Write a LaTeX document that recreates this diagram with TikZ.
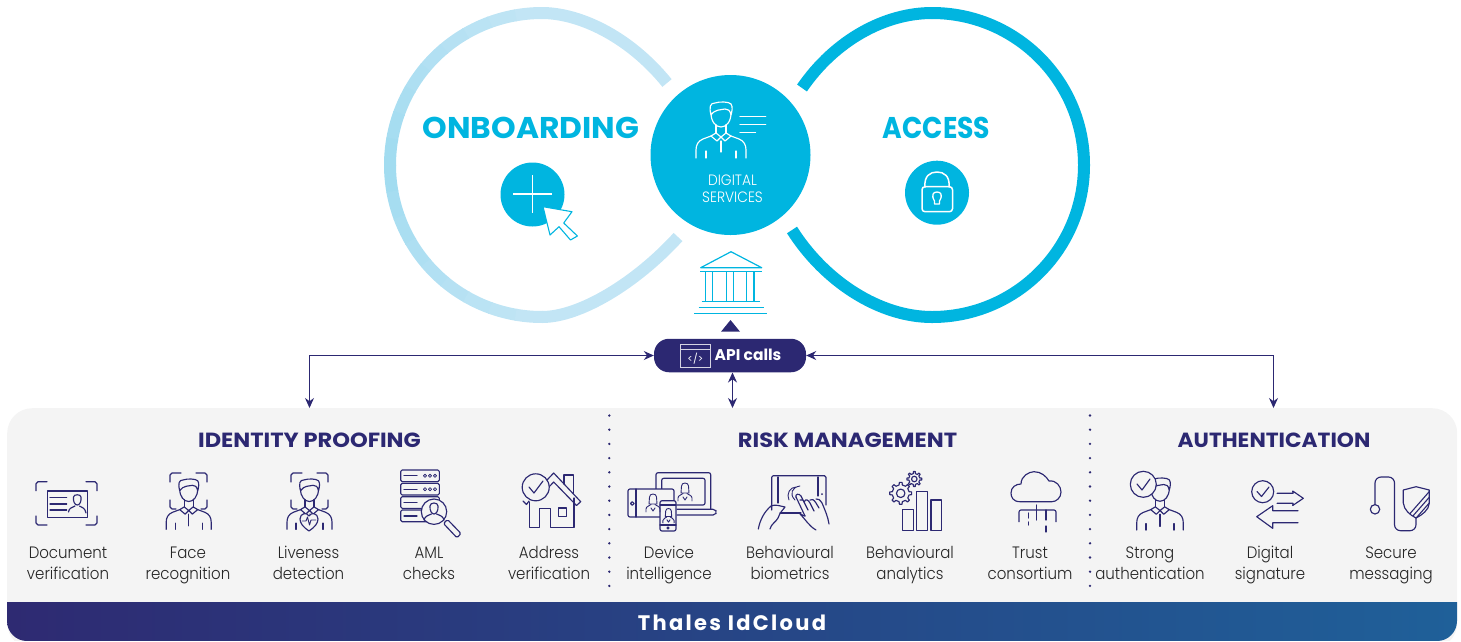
\documentclass[tikz,border=0pt]{standalone}
\usepackage{fontspec}
\setmainfont{Poppins}
\newfontfamily\lightf{Poppins Light}
\newfontfamily\boldf{Poppins}[UprightFont=* Bold,LetterSpace=0]
\usetikzlibrary{arrows.meta,shapes.geometric,calc}
\definecolor{cyanM}{HTML}{00B5E0}
\definecolor{navy}{HTML}{2C2872}
\definecolor{panelG}{HTML}{F4F4F4}
\definecolor{ringA}{HTML}{A0DBF0}
\definecolor{ringB}{HTML}{C2E5F5}
\definecolor{barL}{HTML}{2E2A72}
\definecolor{barR}{HTML}{1F6099}
\tikzset{
  icon/.style={draw=navy,line width=1.15pt,line cap=round,line join=round,fill=none},
  wicon/.style={draw=white,line width=1.15pt,line cap=round,line join=round,fill=none},
  cicon/.style={draw=cyanM,line width=1.2pt,fill=none},
  lab/.style={font=\lightf\fontsize{16.5}{21}\selectfont,text=black!85,anchor=base,inner sep=0pt},
  head/.style={font=\boldf\fontsize{20.5}{24}\selectfont,text=navy,inner sep=0pt},
  big/.style={font=\boldf\fontsize{30}{32}\selectfont,text=cyanM,inner sep=0pt},
  link/.style={draw=navy,line width=1.2pt,{Stealth[length=10pt,width=9pt]}-{Stealth[length=10pt,width=9pt]}},
  disc/.style={circle,fill=cyanM,inner sep=0pt},
  dot/.style={circle,fill=navy,inner sep=0pt,minimum size=2.6pt},
}
% person: head top at (0,0), half-width 25, height 56
\newcommand\PersonIcon[5][50]{%
\begin{scope}[shift={(#2,#3)},scale=#4]
 \draw[#5] (-10,11) .. controls (-10,20) and (-5,25) .. (0,25) .. controls (5,25) and (10,20) .. (10,11);
 \draw[#5] (-10,13) .. controls (-12,5) and (-11,1) .. (-6,1) .. controls (-2,-0.5) and (8,-0.5) .. (10,2) .. controls (12,5) and (11,9) .. (10,13) .. controls (9,8) and (7,7) .. (4,7) .. controls (0,8) and (-6,7) .. (-10,13);
 \draw[#5] (-5,23)--(-5,31) (5,23)--(5,31);
 \draw[#5] (-5,31)--(-10,34)--(-4,39)--(0,35)--(4,39)--(10,34)--(5,31) (-5,31)--(0,35)--(5,31);
 \draw[#5] (-10,34)--(-18,37) .. controls (-23,39) and (-25,43) .. (-25,48)--(-25,56);
 \draw[#5] (10,34)--(18,37) .. controls (23,39) and (25,43) .. (25,48)--(25,56);
 \draw[#5] (-15,49)--(-15,56) (15,49)--(15,56) (0,39)--(0,#1);
\end{scope}}
\newcommand\Brackets[4]{% x1 y1 x2 y2
 \draw[icon] (#1,{#2+9}) -- (#1,{#2+2}) -- ({#1+2},#2) -- ({#1+11},#2);
 \draw[icon] ({#3-11},#2) -- ({#3-2},#2) -- (#3,{#2+2}) -- (#3,{#2+9});
}
\newcommand\Gear[4]{% x y r teeth-outer
\begin{scope}[shift={(#1,#2)}]
 \draw[icon] (-11:#3) \foreach \a in {0,45,...,315}{ -- ({\a-11}:#3) -- ({\a-7}:#4) -- ({\a+7}:#4) -- ({\a+11}:#3) } -- cycle;
 \draw[icon] (0,0) circle ({0.5*#3});
\end{scope}}
\begin{document}
\begin{tikzpicture}[x=1pt,y=-1pt]
\useasboundingbox (0,0) rectangle (1461,641);
% rings
\foreach \i in {0,...,17}{
  \pgfmathsetmacro\p{abs(\i-8.5)/8.5*100}
  \pgfmathsetmacro\sa{-90-\i*10}
  \pgfmathsetmacro\ea{-90-(\i+1)*10-0.4}
  \draw[color=ringB!\p!ringA,line width=12pt] ($(542,165)+(\sa:152)$) arc[start angle=\sa,end angle=\ea,radius=152];
}
\draw[ringB,line width=12pt] (542,13) .. controls (578,13) and (628,35) .. (667,83);
\draw[ringB,line width=12pt] (542,317) .. controls (580,317) and (636,283) .. (678,237);
\draw[cyanM,line width=12pt] ($(932,165)+(-90:152)$) arc[start angle=-90,end angle=90,radius=152];
\draw[cyanM,line width=12pt] (932,13) .. controls (885,13) and (835,40) .. (802,88);
\draw[cyanM,line width=12pt] (932,317) .. controls (880,317) and (825,282) .. (792,230);
% panel
\node[draw=none,fill=panelG,rounded corners=25pt,minimum width=1450pt,minimum height=240pt,inner sep=0pt,anchor=north west] (panel) at (7,408) {};
\shade[left color=barL,right color=barR] (7,602) -- (1457,602) -- (1457,621) arc[start angle=0,end angle=90,radius=20] -- (27,641) arc[start angle=90,end angle=180,radius=20] -- cycle;
\fill[white] (0,641) rectangle (1461,650);
\node[font=\boldf\fontsize{21}{24}\selectfont,text=white,inner sep=0pt] (bartext) at (732,623) {\addfontfeature{LetterSpace=11}Thales IdCloud};
% main circles
\node[disc,minimum size=160pt] (main) at (730.5,155) {};
\node[disc,minimum size=64pt] (plusdisc) at (532.5,194.5) {};
\node[disc,minimum size=64pt] (lockdisc) at (937,192.7) {};
\node[big] (onb) at (531,128) {\scalebox{1.045}[1]{ONBOARDING}};
\node[big] (acc) at (936.5,128) {\scalebox{0.89}[1]{ACCESS}};
\node[font=\lightf\fontsize{15}{17}\selectfont,text=white,inner sep=0pt,anchor=base] (dig1) at (732.5,185) {\scalebox{0.92}[1]{DIGITAL}};
\node[font=\lightf\fontsize{15}{17}\selectfont,text=white,inner sep=0pt,anchor=base] (dig2) at (732.5,202) {\scalebox{0.92}[1]{SERVICES}};
% plus + cursor
\draw[white,line width=1.5pt] (513,194) -- (552,194) (532.7,175) -- (532.7,213);
\draw[cyanM,fill=white,line width=1.1pt,line join=round] (543,206.7) -- (550,235) -- (559,226.7) -- (570.5,240) -- (577.4,236) -- (563.7,223) -- (572,211.7) -- cycle;
% lock
\draw[wicon,line width=1.5pt] (925,187) .. controls (924,176) and (930,172) .. (937,172) .. controls (944,172) and (950,176) .. (949,187);
\draw[wicon,line width=1.5pt,rounded corners=3pt] (922,186.7) rectangle (952.5,211.7);
\draw[wicon,line width=1.3pt] (934.5,201) .. controls (931,195) and (933,192) .. (937,192) .. controls (941,192) and (943,195) .. (939.5,201) -- (939.5,204) -- (934.5,204) -- cycle;
% person in main
\PersonIcon{721}{102}{1}{wicon}
\draw[wicon] (740,116.7)--(765.7,116.7) (740,124.7)--(765.7,124.7) (740,132.7)--(755.6,132.7);
% bank
\draw[cicon,line join=round] (700.7,267.7) -- (731,251.7) -- (761.7,267.7) -- cycle;
\draw[cicon] (700,271.7) -- (762,271.7) (701.7,301.7) -- (760,301.7) (698.5,307.7) -- (763.5,307.7) (694.3,313.3) -- (766.7,313.3);
\foreach \cx in {705.7,712.7,726.7,733.3,746.7,754}{\draw[cicon] (\cx,271.7) -- (\cx,301.7);}
% API
\fill[navy] (721,331.7) -- (730.5,320) -- (740,331.7) -- cycle;
\node[fill=navy,rounded corners=15pt,minimum width=152pt,minimum height=33.5pt,inner sep=0pt] (api) at (730,355.5) {};
\node[font=\boldf\fontsize{15.5}{18}\selectfont,text=white,inner sep=0pt] (apitext) at (748,355) {API calls};
\draw[white!80!navy,line width=1pt] (680.7,344) rectangle (710,367.3) (680.7,349.5) -- (710,349.5);
\node[font=\fontsize{10}{10}\selectfont,text=white,inner sep=0pt] (code) at (695.3,358.5) {</>};
% connectors
\coordinate (idp) at (309.5,408);
\coordinate (auth) at (1273.5,408);
\coordinate (midT) at (732.5,372.5);
\coordinate (midB) at (732.5,408);
\draw[link] (api.west |- 0,355.5) -| (idp);
\draw[link] (api.east |- 0,355.5) -| (auth);
\draw[link] (midT) -- (midB);
% dotted
\foreach \dx in {609.3,1090}{\foreach \k in {0,...,12}{\node[dot] at (\dx,{415.5+\k*14.2}) {};}}
% headers
\node[head] (h1) at (309.5,440) {\scalebox{1.1}[1]{IDENTITY PROOFING}};
\node[head] (h2) at (847.5,440) {\scalebox{1.1}[1]{RISK MANAGEMENT}};
\node[head] (h3) at (1274,440) {\scalebox{1.06}[1]{AUTHENTICATION}};
% labels
\foreach \nm/\cx/\ta/\tb in {a/68/Document/verification,b/188/Face/recognition,c/308.5/Liveness/detection,d/429/AML/checks,e/549/Address/verification,f/669/Device/intelligence,g/790/Behavioural/biometrics,h/910/Behavioural/analytics,i/1030/Trust/consortium,j/1150/Strong/authentication,k/1270/Digital/signature,l/1391/Secure/messaging}{
  \node[lab] (l\nm1) at (\cx,558) {\scalebox{0.91}[1]{\ta}};
  \node[lab] (l\nm2) at (\cx,579) {\scalebox{0.91}[1]{\tb}};
}
% document icon
\Brackets{36}{481.7}{97}{481.7}
\draw[icon] (36,516) -- (36,523) -- (38,525) -- (47,525) (86,525) -- (95,525) -- (97,523) -- (97,516);
\draw[icon] (47.3,491) rectangle (87.3,517.3);
\draw[icon] (50,497.7)--(66.7,497.7) (50,504)--(66.7,504) (50,510)--(66.7,510);
\draw[icon] (73.5,497) .. controls (73.5,494) and (81,494) .. (81,497) .. controls (81.5,501) and (80,505) .. (77.3,505) .. controls (74.5,505) and (73,501) .. (73.5,497);
\draw[icon] (68.5,512) .. controls (69,508) and (72,507.5) .. (75,506) (86,513) .. controls (85,508) and (82.5,507.5) .. (79.5,506);
% face recognition
\Brackets{170}{473}{207}{473}
\draw[icon] (170,500) -- (170,507) -- (172,509) -- (176,509) (201,509) -- (205,509) -- (207,507) -- (207,500);
\PersonIcon[52]{188.7}{479}{0.9}{icon}
% liveness
\Brackets{291}{473}{328}{473}
\draw[icon] (291,500) -- (291,507) -- (293,509) -- (297,509) (322,509) -- (326,509) -- (328,507) -- (328,500);
\PersonIcon[39]{309.5}{479}{0.9}{icon}
\draw[icon,fill=panelG] (309,531) .. controls (303,527) and (300,523) .. (300,519) .. controls (300,513) and (307,512) .. (309,516) .. controls (311,512) and (318,513) .. (318,519) .. controls (318,523) and (315,527) .. (309,531) -- cycle;
\draw[icon,line width=0.9pt] (302,521) -- (306,521) -- (307.5,517) -- (309.5,525) -- (311,520) -- (316,520);
% AML
\foreach \sy in {470,483.3,496.7,510}{\draw[icon,rounded corners=1.5pt,line width=1.1pt] (400.7,\sy) rectangle (439.3,{\sy+11.7});}
\foreach \sy in {475.8,489.2}{\draw[icon] (404,\sy)--(417,\sy); \foreach \dxx in {425,430,435}{\draw[icon,line width=0.8pt] (\dxx,\sy) circle (1.6);}}
\draw[icon] (404,502.5)--(417,502.5) (404,516)--(417,516);
\draw[icon,fill=panelG] (434,511.7) circle (12.7);
\draw[icon,rounded corners=1.5pt,fill=panelG] (443.5,523.5) -- (447.5,519.5) -- (461,533.5) -- (457,537.8) -- cycle;
\draw[icon] (430,506) .. controls (430,502) and (438,502) .. (438,506) .. controls (438.5,511) and (436,514) .. (434,514) .. controls (432,514) and (429.5,511) .. (430,506) -- cycle;
\draw[icon] (424,520) .. controls (425,516) and (428,515.5) .. (431.5,514) (444,520) .. controls (443,516) and (440,515.5) .. (436.5,514);
% address
\draw[icon] (529.3,502) -- (529.3,527.7) -- (539.3,527.7) -- (539.3,508.3) -- (550.7,508.3) -- (550.7,527.7) -- (574,527.7) -- (574,498);
\draw[icon] (564,484) -- (564,475) -- (573.3,475) -- (573.3,493);
\draw[icon] (547,480) -- (553.7,473) -- (580.7,501.7) -- (576.5,505.5) -- (553.7,482) -- (547,489);
\draw[icon] (558.3,508) rectangle (566.7,516.7);
\draw[icon] (523,501) -- (526.5,504.5) -- (529,501);
\draw[icon,fill=panelG] (535.7,487.3) circle (13.5);
\draw[icon] (529,487) -- (534,493) -- (543,481);
% device
\draw[icon,rounded corners=2pt] (656,489) -- (656,472.7) -- (710.7,472.7) -- (710.7,509.3);
\draw[icon,rounded corners=2pt] (661.7,489) -- (661.7,478.3) -- (705,478.3) -- (705,505) -- (677,505);
\draw[icon,rounded corners=2pt] (677,509.3) -- (715,509.3) -- (717,512) -- (715,515) -- (677,515);
\draw[icon,rounded corners=2pt,fill=panelG] (628,489) rectangle (674,517);
\draw[icon] (636,489) -- (636,517);
\draw[icon] (632.3,503.5) circle (1.8);
\draw[icon,rounded corners=2pt,fill=panelG] (660,500.7) rectangle (676,531);
\draw[icon] (660,505) -- (676,505) (660,525) -- (676,525);
\draw[icon] (668,528) circle (1);
\foreach \ppx/\ppy/\pps in {653/494/1,685/483/1,668.5/508.5/0.8}{
 \begin{scope}[shift={(\ppx,\ppy)},scale=\pps]
 \draw[icon,line width=0.9pt] (-3.5,3) .. controls (-3.5,-1) and (3.5,-1) .. (3.5,3) -- (4,10) -- (-4,10) -- cycle;
 \draw[icon,line width=0.9pt] (-7,18) -- (-7,15) .. controls (-7,12) and (-3,12) .. (-2,10.5) (7,18) -- (7,15) .. controls (7,12) and (3,12) .. (2,10.5) (-2,14)--(0,17)--(2,14);
 \end{scope}}
% behavioural biometrics
\draw[icon,rounded corners=1.5pt] (771.7,510) -- (771.7,475.7) -- (826,475.7) -- (826,505);
\draw[icon] (778,477) -- (778,503) (818,477) -- (818,496);
\fill[navy] (822,494) circle (1);
\draw[icon] (780,513) -- (801,513);
\draw[icon] (758.3,529) .. controls (760,520) and (764,512) .. (771,506) .. controls (775,504) and (780,506) .. (785,507) .. controls (783,510) and (780,512) .. (778,518) .. controls (776,522) and (771,524) .. (770,529);
\draw[icon] (796,497) .. controls (795,494) and (799,493) .. (801,496) -- (808,510) (800,500) -- (803,500);
\draw[icon] (796,497) -- (805,516) (804,502) .. controls (806,498) and (808,500) .. (810,503) -- (814,511) (810,500) .. controls (812,498) and (814,500) .. (816,503) -- (819,508) (816,499) .. controls (818,498) and (820,500) .. (822,503) .. controls (825,510) and (828,517) .. (829,524);
\draw[icon] (805,516) -- (800,514) (800,514) .. controls (806,520) and (809,526) .. (816,530);
\draw[icon,line width=0.9pt] (795,500) .. controls (789,494) and (792,487) .. (800,486) (789,500) .. controls (786,494) and (790,487) .. (796,487);
% behavioural analytics
\Gear{900.7}{493.3}{8.5}{11}
\Gear{914.3}{479}{5.5}{7.5}
\draw[icon] (902.3,530.7) rectangle (913.3,509.3);
\draw[icon] (916.7,530.7) rectangle (927.7,491.7);
\draw[icon] (931,530.7) rectangle (941.7,500);
% cloud
\draw[icon] (1020,501.7) .. controls (1013,501.7) and (1011,497) .. (1011,493) .. controls (1011,487) and (1016,484) .. (1021,484) .. controls (1021,476) and (1029,471.7) .. (1034,471.7) .. controls (1041,471.7) and (1046,476) .. (1049,481) .. controls (1056,480) and (1061,486) .. (1061,492) .. controls (1061,498) and (1056,501.7) .. (1052,501.7) -- cycle;
\draw[icon,rounded corners=2pt] (1019,521.7) -- (1019,510) -- (1056,510) -- (1056,521.7);
\draw[icon] (1036.7,505) -- (1036.7,520) (1028.3,513) -- (1028.3,518) (1028.3,522) -- (1028.3,525) (1046,510) -- (1046,520) (1046,526) -- (1046,532);
% strong auth
\PersonIcon[52]{1160}{478}{0.93}{icon}
\draw[icon,fill=panelG] (1143.3,484.3) circle (13);
\draw[icon] (1137,484) -- (1142,490) -- (1150,479);
% digital signature
\draw[icon] (1262.7,491.7) circle (11);
\draw[icon] (1257,491.5) -- (1261.5,496.5) -- (1269,487);
\draw[icon] (1277,493.3) -- (1293,493.3) -- (1292.7,491) -- (1303.3,498.3) -- (1292.7,505.5) -- (1293,503.3) -- (1277,503.3);
\draw[icon] (1298,510.7) -- (1272.7,510.7) -- (1272.7,505.7) -- (1256.7,516.7) -- (1272.7,528.3) -- (1272.7,522.7) -- (1298,522.7);
% secure messaging
\draw[icon] (1375,509.3) circle (4.7);
\draw[icon,rounded corners=6pt] (1375,504.6) -- (1375,477) -- (1394.5,477) -- (1394.5,530.7) -- (1416,530.7) -- (1416,518);
\begin{scope}
\clip (1403.3,490) -- (1416,486.7) -- (1429.3,490) -- (1429.3,503) .. controls (1429,510) and (1422,515) .. (1416,518) .. controls (1410,515) and (1404,510) .. (1403.3,503) -- cycle;
\foreach \hh in {0,5,...,45}{\draw[navy,line width=1.1pt] ({1400+\hh},525) -- ({1400+\hh+35},{525-40});}
\end{scope}
\draw[icon] (1403.3,490) -- (1416,486.7) -- (1429.3,490) -- (1429.3,503) .. controls (1429,510) and (1422,515) .. (1416,518) .. controls (1410,515) and (1404,510) .. (1403.3,503) -- cycle;
\end{tikzpicture}
\end{document}
